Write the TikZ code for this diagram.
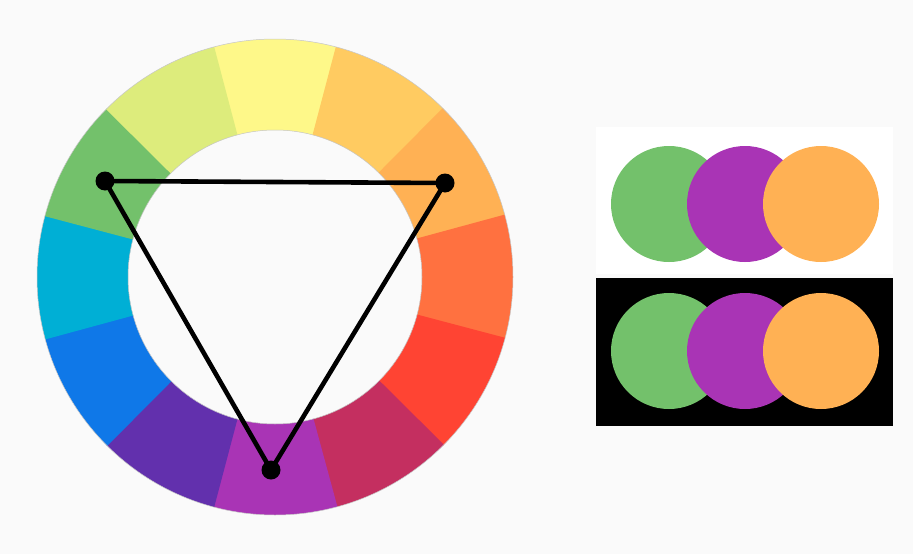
\documentclass[tikz,border=0pt]{standalone}
\begin{document}
\begin{tikzpicture}[x=1pt,y=1pt,
  dot/.style={circle,fill=black,inner sep=0pt,minimum size=19pt},
  tri/.style={line width=4.6pt,black,line join=round},
  swatch/.style={circle,inner sep=0pt,minimum size=116pt}]
\definecolor{bg}{HTML}{FAFAFA}
\definecolor{cA}{HTML}{FEF889}
\definecolor{cB}{HTML}{FFCB61}
\definecolor{cC}{HTML}{FFB154}
\definecolor{cD}{HTML}{FF7140}
\definecolor{cE}{HTML}{FF4433}
\definecolor{cF}{HTML}{C42F60}
\definecolor{cG}{HTML}{A934B5}
\definecolor{cH}{HTML}{6230AD}
\definecolor{cI}{HTML}{0F78E8}
\definecolor{cJ}{HTML}{00AFD5}
\definecolor{cK}{HTML}{73C16B}
\definecolor{cL}{HTML}{DDEC7C}
\fill[bg] (0,0) rectangle (913,-554);
\useasboundingbox (0,0) rectangle (913,-554);
\begin{scope}[shift={(275,-277)}]
\foreach \a/\c in {90/cA,60/cB,30/cC,0/cD,-30/cE,-60/cF,-90/cG,-120/cH,-150/cI,180/cJ,150/cK,120/cL}{
  \fill[\c] ({\a-15.2}:147) arc[start angle={\a-15.2},end angle={\a+15.2},radius=147]
     -- ({\a+15.2}:238) arc[start angle={\a+15.2},end angle={\a-15.2},radius=238] -- cycle;
}
\draw[gray!45,line width=0.5pt] (0,0) circle[radius=238];
\draw[gray!45,line width=0.5pt] (0,0) circle[radius=147];
\end{scope}
\node[dot] (g) at (105,-181) {};
\node[dot] (o) at (445,-183) {};
\node[dot] (p) at (271,-470) {};
\draw[tri] (g.center) -- (o.center) -- (p.center) -- cycle;
% panels
\fill[white] (596,-127) rectangle (893,-274);
\fill[black] (596,-278) rectangle (893,-426);
\node[swatch,fill=cK] (w1) at (669,-204) {};
\node[swatch,fill=cG] (w2) at (745,-204) {};
\node[swatch,fill=cC] (w3) at (821,-204) {};
\node[swatch,fill=cK] (b1) at (669,-351) {};
\node[swatch,fill=cG] (b2) at (745,-351) {};
\node[swatch,fill=cC] (b3) at (821,-351) {};
\end{tikzpicture}
\end{document}
